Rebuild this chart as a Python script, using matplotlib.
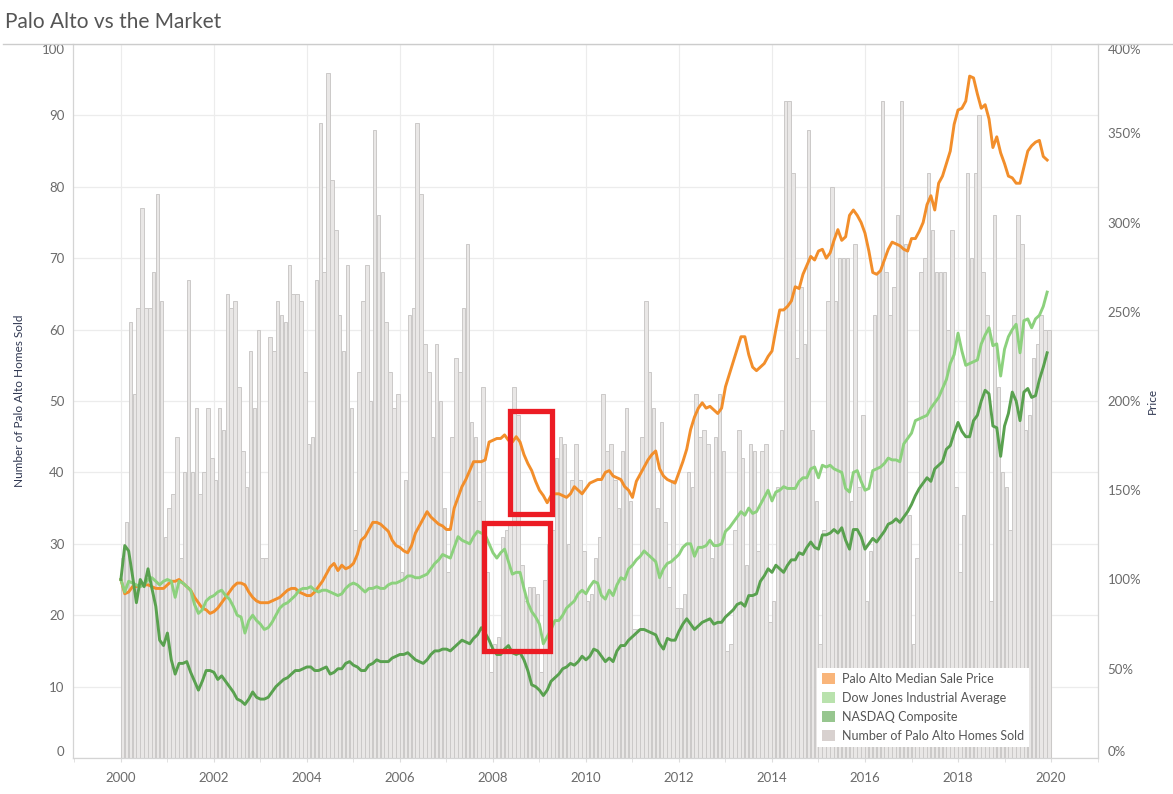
import matplotlib
matplotlib.use("Agg")
import matplotlib.pyplot as plt
from matplotlib.patches import Patch, Rectangle
from matplotlib.lines import Line2D
import numpy as np

plt.rcParams['font.family'] = ['Lato', 'DejaVu Sans']

# monthly data, Jan 2000 .. Dec 2019
start_year = 2000

homes_sold = [
    28, 33, 61, 51, 63, 77, 63, 63, 68, 79, 64, 31, 35, 37, 45, 28, 40, 67, 40, 49,
    37, 40, 49, 42, 39, 49, 46, 65, 63, 64, 52, 43, 38, 57, 49, 60, 28, 28, 59, 57,
    64, 62, 61, 69, 65, 65, 64, 54, 44, 45, 67, 89, 68, 96, 81, 74, 62, 57, 69, 49,
    32, 54, 64, 69, 50, 88, 76, 68, 61, 54, 49, 51, 26, 39, 62, 63, 89, 79, 58, 54,
    45, 58, 50, 35, 26, 45, 56, 54, 63, 72, 47, 45, 36, 52, 26, 12, 16, 17, 31, 32,
    33, 52, 48, 27, 22, 24, 24, 23, 12, 25, 30, 32, 42, 45, 44, 30, 39, 44, 39, 29,
    22, 23, 28, 31, 51, 43, 44, 39, 35, 43, 49, 36, 18, 18, 45, 64, 54, 49, 35, 47,
    33, 24, 39, 21, 21, 23, 40, 38, 51, 45, 46, 44, 28, 45, 51, 43, 15, 16, 32, 46,
    42, 27, 44, 43, 29, 43, 44, 19, 22, 38, 46, 92, 92, 82, 56, 66, 58, 88, 46, 36,
    16, 32, 64, 80, 64, 70, 70, 70, 36, 72, 38, 48, 22, 29, 62, 68, 92, 68, 62, 66,
    76, 92, 72, 34, 16, 28, 68, 70, 82, 74, 68, 68, 68, 60, 74, 38, 26, 34, 82, 70,
    82, 90, 68, 62, 22, 76, 52, 40, 38, 32, 62, 76, 72, 46, 48, 56, 58, 62, 60, 60,
]

# indexed to 100% in Jan 2000
palo_alto_price = [
    100, 92, 93, 96, 96, 97, 97, 97, 96, 95, 95, 95, 97, 99, 99, 100, 98, 96, 94, 90,
    87, 84, 83, 81, 82, 84, 87, 90, 93, 96, 98, 98, 97, 93, 90, 88, 87, 87, 87, 88,
    89, 90, 92, 94, 95, 95, 93, 92, 91, 91, 93, 96, 99, 103, 107, 109, 105, 108, 106, 107,
    109, 114, 122, 124, 128, 132, 132, 131, 129, 127, 122, 119, 118, 116, 115, 119, 126, 130, 134, 138,
    135, 133, 131, 130, 128, 128, 140, 146, 152, 156, 161, 166, 166, 166, 167, 177, 178, 179, 179, 181,
    178, 177, 180, 177, 170, 165, 161, 155, 150, 147, 143, 147, 148, 148, 147, 146, 148, 152, 150, 148,
    151, 154, 155, 156, 156, 160, 161, 158, 157, 156, 152, 150, 146, 155, 159, 163, 167, 170, 172, 162,
    158, 156, 155, 154, 160, 166, 173, 184, 191, 196, 199, 196, 197, 195, 193, 196, 208, 215, 222, 229,
    236, 236, 226, 219, 217, 219, 221, 225, 228, 240, 251, 251, 253, 256, 264, 263, 271, 276, 281, 279,
    284, 285, 280, 283, 290, 296, 290, 292, 304, 307, 304, 300, 294, 284, 272, 271, 273, 279, 285, 289,
    288, 287, 285, 284, 291, 291, 295, 300, 310, 315, 307, 322, 326, 333, 340, 355, 363, 364, 368, 382,
    381, 372, 364, 366, 358, 342, 348, 339, 333, 326, 325, 322, 322, 331, 340, 343, 345, 346, 337, 335,
]

dow_jones = [
    100, 93, 99, 98, 97, 96, 97, 100, 101, 99, 97, 99, 100, 99, 90, 99, 98, 96, 94, 86,
    81, 83, 88, 90, 91, 93, 94, 91, 89, 85, 80, 79, 70, 77, 80, 77, 75, 72, 73, 76,
    80, 84, 86, 87, 89, 91, 94, 95, 95, 96, 94, 93, 94, 94, 93, 92, 91, 92, 95, 97,
    98, 97, 95, 93, 95, 95, 96, 95, 95, 97, 98, 98, 99, 100, 102, 102, 101, 101, 102, 103,
    106, 109, 111, 114, 113, 112, 118, 124, 122, 121, 120, 124, 127, 126, 125, 120, 115, 112, 115, 117,
    110, 103, 104, 104, 95, 87, 82, 79, 75, 64, 68, 72, 77, 77, 80, 84, 86, 88, 92, 94,
    92, 96, 99, 98, 91, 89, 94, 91, 97, 101, 100, 106, 108, 111, 113, 116, 114, 112, 110, 101,
    106, 109, 110, 112, 114, 118, 120, 120, 113, 118, 118, 119, 122, 119, 119, 120, 127, 129, 132, 135,
    138, 136, 140, 137, 138, 142, 146, 150, 144, 149, 150, 152, 151, 151, 151, 155, 157, 157, 162, 163,
    157, 164, 163, 164, 162, 161, 160, 151, 149, 160, 161, 155, 150, 151, 161, 162, 163, 165, 168, 167,
    167, 166, 176, 179, 182, 189, 190, 191, 192, 196, 199, 202, 207, 212, 221, 226, 238, 228, 220, 221,
    222, 223, 232, 237, 241, 231, 232, 214, 229, 236, 240, 243, 227, 245, 246, 241, 246, 248, 253, 261,
]

nasdaq = [
    100, 119, 116, 102, 87, 100, 96, 106, 95, 85, 66, 63, 70, 55, 47, 53, 53, 54, 48, 43,
    38, 43, 49, 49, 48, 44, 46, 43, 40, 37, 33, 32, 30, 33, 37, 34, 33, 33, 34, 37,
    40, 42, 44, 45, 47, 49, 49, 50, 51, 51, 49, 49, 50, 51, 47, 48, 50, 50, 53, 54,
    52, 51, 49, 49, 52, 53, 55, 54, 54, 54, 56, 57, 58, 58, 59, 57, 55, 54, 53, 55,
    58, 60, 60, 61, 61, 60, 62, 64, 66, 65, 64, 67, 69, 73, 70, 66, 61, 58, 58, 61,
    63, 59, 58, 59, 55, 49, 41, 40, 38, 35, 38, 43, 45, 47, 50, 51, 53, 52, 54, 57,
    55, 57, 61, 60, 57, 54, 56, 54, 60, 63, 63, 66, 68, 70, 72, 72, 71, 70, 69, 64,
    61, 67, 66, 66, 71, 75, 78, 75, 72, 74, 76, 77, 78, 75, 76, 76, 79, 81, 83, 86,
    87, 85, 91, 91, 92, 99, 102, 106, 104, 108, 106, 104, 108, 111, 111, 115, 114, 118, 121, 118,
    117, 125, 125, 126, 128, 126, 129, 122, 117, 128, 128, 124, 117, 120, 123, 121, 124, 127, 131, 132,
    134, 132, 135, 138, 142, 147, 151, 154, 157, 155, 162, 164, 166, 173, 175, 182, 188, 183, 180, 180,
    189, 192, 200, 206, 204, 186, 185, 169, 186, 193, 205, 200, 189, 205, 207, 202, 203, 212, 219, 227,
]

series_names = ['Palo Alto Median Sale Price', 'Dow Jones Industrial Average',
                'NASDAQ Composite', 'Number of Palo Alto Homes Sold']

months = start_year + np.arange(len(homes_sold)) / 12.0

# colours
c_orange = '#f28e2b'
c_light = '#8cd17d'
c_dark = '#59a14f'
c_bar = '#e9e7e6'
c_bar_edge = '#cbc9c8'
c_text = '#6b6b6b'
c_red = '#ec1c24'

fig = plt.figure(figsize=(11.73, 7.94), dpi=100)
ax = fig.add_axes([73 / 1173, 1 - 758 / 794, (1098 - 73) / 1173, (758 - 44) / 794])
ax2 = ax.twinx()

# bars (left axis)
ax.bar(months, homes_sold, width=0.9 / 12, align='edge', color=c_bar,
       edgecolor=c_bar_edge, linewidth=0.7, zorder=2)
ax.set_ylim(0, 100)
ax.set_xlim(1998.97, 2021.01)
ax.set_yticks(np.arange(0, 101, 10))
ax.grid(axis='y', color='#ececec', linewidth=0.9, zorder=0)
ax.set_axisbelow(True)
for yr in range(2000, 2021, 2):
    ax.axvline(yr, color='#ececec', linewidth=0.8, zorder=0)

ax.set_xticks(np.arange(2000, 2021, 2))
ax.set_xticks(np.arange(1999, 2022, 1), minor=True)
ax.tick_params(axis='x', which='both', length=3, color='#dddddd', labelsize=9.5,
               labelcolor=c_text, pad=7)
ax.tick_params(axis='y', length=0, labelsize=9.5, labelcolor=c_text, pad=6)
ax.set_ylabel('Number of Palo Alto Homes Sold', fontsize=8.5, color='#2e3650', labelpad=12)

# lines (right axis)
ax2.plot(months, palo_alto_price, color=c_orange, linewidth=2.1, zorder=3)
ax2.plot(months, dow_jones, color=c_light, linewidth=2.1, zorder=3)
ax2.plot(months, nasdaq, color=c_dark, linewidth=2.1, zorder=3)
ax2.set_ylim(0, 400)
ax2.set_yticks(np.arange(0, 401, 50))
ax2.set_yticklabels([f'{v}%' for v in range(0, 401, 50)])
ax2.tick_params(axis='y', length=0, labelsize=9.5, labelcolor=c_text, pad=7)
ax2.set_ylabel('Price', fontsize=8.5, color='#2e3650', labelpad=4)

# edge labels sit inside the plot like in the original
for a in (ax, ax2):
    labs = a.get_yticklabels()
    labs[0].set_verticalalignment('bottom')
    labs[-1].set_verticalalignment('top')

for a in (ax, ax2):
    a.spines['top'].set_visible(False)
    a.spines['left'].set_color('#d4d4d4')
    a.spines['right'].set_color('#d4d4d4')
    a.spines['bottom'].set_color('#d4d4d4')

# highlight boxes
ax2.add_patch(Rectangle((2008.36, 136.8), 0.90, 57.6, fill=False,
                        edgecolor=c_red, linewidth=3.8, zorder=5))
ax2.add_patch(Rectangle((2007.80, 60.0), 1.43, 71.6, fill=False,
                        edgecolor=c_red, linewidth=3.8, zorder=5))

# legend
handles = [Patch(facecolor='#f9b57a', edgecolor='none'),
           Patch(facecolor='#b9e2ad', edgecolor='none'),
           Patch(facecolor='#97c68f', edgecolor='none'),
           Patch(facecolor='#d8d1cf', edgecolor='none')]
leg = ax2.legend(handles, series_names, loc='lower left', bbox_to_anchor=(0.726, 0.016),
                 frameon=True, fancybox=False, fontsize=9, handlelength=1.0,
                 handleheight=1.0, handletextpad=0.6, labelspacing=0.55,
                 borderpad=0.4, borderaxespad=0)
leg.get_frame().set_facecolor('white')
leg.get_frame().set_edgecolor('none')
leg.get_frame().set_alpha(1)
for t in leg.get_texts():
    t.set_color('#555555')
leg.set_zorder(6)

# title and separator
fig.text(5 / 1173, 1 - 22 / 794, 'Palo Alto vs the Market', fontsize=15,
         color='#555555', va='center', ha='left')
fig.add_artist(Line2D([3 / 1173, 1], [1 - 44 / 794, 1 - 44 / 794],
                      color='#cccccc', linewidth=1.0))

fig.savefig('out.png', dpi=100)
